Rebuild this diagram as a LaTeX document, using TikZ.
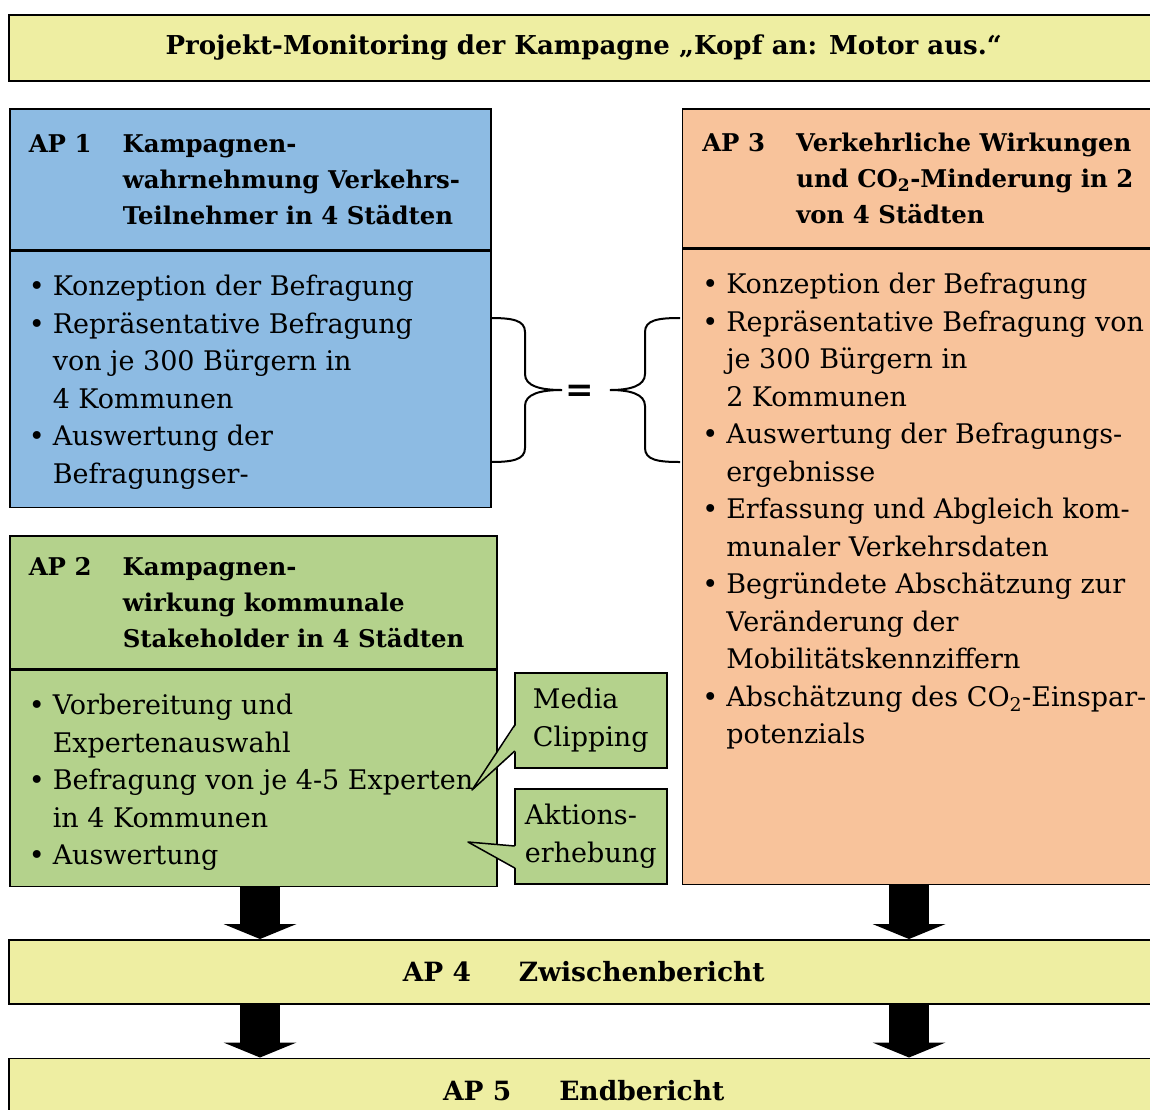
\documentclass[tikz,border=0pt]{standalone}
\usepackage{fontspec}
\setmainfont{DejaVu Serif}
\usepackage{tikz}
\usetikzlibrary{arrows.meta, positioning, calc}
\definecolor{gelb}{RGB}{238,238,162}
\definecolor{blau}{RGB}{141,187,227}
\definecolor{pfirsich}{RGB}{248,195,155}
\definecolor{gruen}{RGB}{180,210,140}

\newcommand{\punkt}[1]{\par\hangindent=24pt\hangafter=1\noindent\makebox[24pt][l]{\textbullet}#1}
\newcommand{\apkopf}[3]{\makebox[94pt][l]{#2}\parbox[t]{\dimexpr#1-94pt\relax}{\raggedright #3}}
\newcommand{\punkte}[3]{\parbox[c][#2][t]{#1}{\parindent=0pt\rightskip=0pt plus 1fil #3}}

\begin{document}
\begin{tikzpicture}[x=1pt, y=-1pt,
        balken/.style={rectangle, draw, line width=1.5pt, fill=gelb, minimum width=1150pt, minimum height=64pt, font=\fontsize{26.5}{30}\selectfont\bfseries},
        kopf/.style={rectangle, draw, line width=1.5pt, inner xsep=0pt, font=\fontsize{24.4}{36}\selectfont\bfseries},
        koerper/.style={rectangle, draw, line width=1.5pt, inner sep=0pt, font=\fontsize{27}{37.5}\selectfont},
        notiz/.style={rectangle, draw, line width=1.5pt, fill=gruen, minimum width=152pt, minimum height=95pt, align=left, font=\fontsize{27}{37.5}\selectfont},
        blockpfeil/.style={line width=40pt, -{Triangle[width=73pt, length=15pt, line width=0pt]}},
        klammer/.style={line width=2pt}
    ]
        \clip (0,0) rectangle (1150,1109);

        \node[balken, minimum height=66pt, anchor=north west, font=\fontsize{26}{30}\selectfont\bfseries] (titel) at (8,14) {Projekt-Monitoring der Kampagne „Kopf an: Motor aus.“};

        \node[kopf, fill=blau, minimum width=481pt, minimum height=141pt, anchor=north west] (ap1kopf) at (9,108)
            {\apkopf{443pt}{AP 1}{Kampagnen-\\wahrnehmung Verkehrs-\\Teilnehmer in 4 Städten}};
        \node[koerper, fill=blau, minimum width=481pt, minimum height=256pt, below=0pt of ap1kopf] (ap1body)
            {\punkte{443pt}{208pt}{\punkt{Konzeption der Befragung}
                \punkt{Repräsentative Befragung\\von je 300 Bürgern in\\4 Kommunen}
                \punkt{Auswertung der\\Befragungser-}}};

        \node[kopf, fill=gruen, minimum width=487pt, minimum height=133pt, below=27pt of ap1body.south west, anchor=north west] (ap2kopf)
            {\apkopf{449pt}{AP 2}{Kampagnen-\\wirkung kommunale\\Stakeholder in 4 Städten}};
        \node[koerper, fill=gruen, minimum width=487pt, minimum height=216pt, below=0pt of ap2kopf] (ap2body)
            {\punkte{449pt}{168pt}{\punkt{Vorbereitung und\\Expertenauswahl}
                \punkt{Befragung von je 4-5 Experten\\in 4 Kommunen}
                \punkt{Auswertung}}};

        \node[kopf, fill=pfirsich, minimum width=500pt, minimum height=139pt, right=190pt of ap1kopf.north east, anchor=north west] (ap3kopf)
            {\apkopf{460pt}{AP 3}{Verkehrliche Wirkungen\\und CO\textsubscript{2}-Minderung in 2\\von 4 Städten}};
        \node[koerper, fill=pfirsich, minimum width=500pt, minimum height=635pt, below=0pt of ap3kopf] (ap3body)
            {\punkte{460pt}{587pt}{\punkt{Konzeption der Befragung}
                \punkt{Repräsentative Befragung von\\je 300 Bürgern in\\2 Kommunen}
                \punkt{Auswertung der Befragungs-\\ergebnisse}
                \punkt{Erfassung und Abgleich kom-\\munaler Verkehrsdaten}
                \punkt{Begründete Abschätzung zur\\Veränderung der\\Mobilitätskennziffern}
                \punkt{Abschätzung des CO\textsubscript{2}-Einspar-\\potenzials}}};

        % Klammern und Gleichheitszeichen
        \draw[klammer] (490,318) .. controls (512,318) and (525,320) .. (525,332) -- (525,374) .. controls (525,386) and (540,390) .. (562,390)
            .. controls (540,390) and (525,394) .. (525,406) -- (525,448) .. controls (525,460) and (512,462) .. (490,462);
        \draw[klammer] (680,318) .. controls (658,318) and (645,320) .. (645,332) -- (645,374) .. controls (645,386) and (630,390) .. (610,390)
            .. controls (630,390) and (645,394) .. (645,406) -- (645,448) .. controls (645,460) and (658,462) .. (680,462);
        \node[font=\fontsize{34}{36}\selectfont\bfseries] (gleich) at (580,393) {=};

        % Notizen mit Zeiger
        \node[notiz, anchor=north west] (media) at (514,672) {Media\\Clipping};
        \node[notiz, anchor=north west] (aktion) at (514,788) {Aktions-\\erhebung};
        \coordinate (mspitze) at (472,790);
        \coordinate (aspitze) at (468,842);
        \fill[gruen] ($(media.north west)+(2,53)$) -- (mspitze) -- ($(media.north west)+(2,79)$) -- cycle;
        \draw[line width=1.5pt, line join=round] ($(media.north west)+(0.75,53)$) -- (mspitze) -- ($(media.north west)+(0.75,79)$);
        \fill[gruen] ($(aktion.north west)+(2,58)$) -- (aspitze) -- ($(aktion.north west)+(2,80)$) -- cycle;
        \draw[line width=1.5pt, line join=round] ($(aktion.north west)+(0.75,58)$) -- (aspitze) -- ($(aktion.north west)+(0.75,80)$);

        \node[balken, below=52pt of ap2body.south west, anchor=north west, xshift=-1pt] (ap4) {AP 4\hspace{48pt}Zwischenbericht};
        \node[balken, below=53pt of ap4] (ap5) {AP 5\hspace{48pt}Endbericht};

        \coordinate (links) at (260,0);
        \coordinate (rechts) at (909,0);
        \draw[blockpfeil] (ap2body.south -| links) -- (ap4.north -| links);
        \draw[blockpfeil] (ap3body.south -| rechts) -- (ap4.north -| rechts);
        \draw[blockpfeil] (ap4.south -| links) -- (ap5.north -| links);
        \draw[blockpfeil] (ap4.south -| rechts) -- (ap5.north -| rechts);
    \end{tikzpicture}
\end{document}
